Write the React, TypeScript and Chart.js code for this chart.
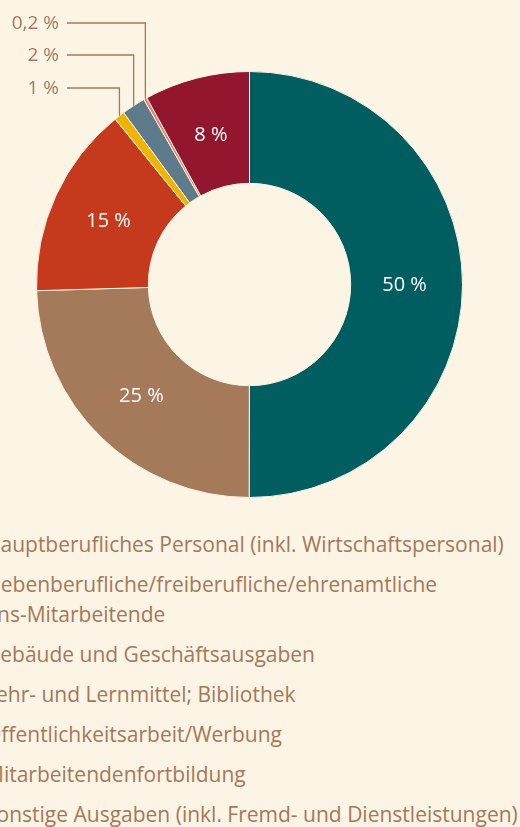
import React, { useEffect, useRef } from "react";
import { Chart, registerables } from "chart.js";

Chart.register(...registerables);

const categories: string[][] = [
  ["Hauptberufliches Personal (inkl. Wirtschaftspersonal)"],
  ["Nebenberufliche/freiberufliche/ehrenamtliche", "ns-Mitarbeitende"],
  ["Gebäude und Geschäftsausgaben"],
  ["Lehr- und Lernmittel; Bibliothek"],
  ["Öffentlichkeitsarbeit/Werbung"],
  ["Mitarbeitendenfortbildung"],
  ["Sonstige Ausgaben (inkl. Fremd- und Dienstleistungen)"],
];
const values: number[] = [50, 24.5, 14.6, 0.8, 1.8, 0.25, 8];
const valueLabels: string[] = ["50 %", "25 %", "15 %", "1 %", "2 %", "0,2 %", "8 %"];
const insideLabel: boolean[] = [true, true, true, false, false, false, true];
const colors: string[] = ["#005e60", "#a57a5a", "#c5391c", "#f0b400", "#5e7b8c", "#ea806a", "#92162e"];

const BG = "#fcf4e4";
const TEXT = "#a57858";
const FONT = "'Open Sans', 'Noto Sans', sans-serif";

export default function App() {
  const ref = useRef<HTMLCanvasElement | null>(null);

  useEffect(() => {
    document.body.style.margin = "0";
    document.body.style.background = BG;
    const canvas = ref.current!;
    const labelsPlugin = {
      id: "valueLabels",
      afterDatasetsDraw(chart: any) {
        const ctx = chart.ctx;
        const meta = chart.getDatasetMeta(0);
        ctx.save();
        // inside labels
        ctx.fillStyle = "#ffffff";
        ctx.font = `20px ${FONT}`;
        ctx.textAlign = "center";
        ctx.textBaseline = "middle";
        meta.data.forEach((arc: any, i: number) => {
          if (!insideLabel[i]) return;
          const mid = (arc.startAngle + arc.endAngle) / 2;
          const r = 155;
          ctx.fillText(valueLabels[i], arc.x + Math.cos(mid) * r, arc.y + Math.sin(mid) * r + 1);
        });
        // outside labels with leader lines
        const outside = meta.data
          .map((arc: any, i: number) => ({ arc, i }))
          .filter((o: any) => !insideLabel[o.i])
          .reverse();
        const rowY = [23, 55, 88];
        ctx.strokeStyle = TEXT;
        ctx.lineWidth = 1.3;
        ctx.fillStyle = TEXT;
        ctx.font = `19px ${FONT}`;
        ctx.textAlign = "right";
        outside.forEach((o: any, k: number) => {
          const a = o.arc;
          const mid = (a.startAngle + a.endAngle) / 2;
          const ex = a.x + Math.cos(mid) * a.outerRadius;
          const ey = a.y + Math.sin(mid) * a.outerRadius;
          const y = rowY[k];
          ctx.beginPath();
          ctx.moveTo(67, y);
          ctx.lineTo(ex, y);
          ctx.lineTo(ex, ey);
          ctx.stroke();
          ctx.fillText(valueLabels[o.i], 59, y + 1);
        });
        ctx.restore();
      },
    };
    const chart = new Chart(canvas, {
      type: "doughnut",
      data: {
        labels: categories.map((c) => c.join(" ")),
        datasets: [
          {
            data: values,
            backgroundColor: colors,
            borderColor: BG,
            borderWidth: 1,
          },
        ],
      },
      options: {
        animation: false,
        responsive: false,
        cutout: "47.5%",
        layout: { padding: { left: 36, top: 71, right: 57, bottom: 22 } },
        plugins: { legend: { display: false }, tooltip: { enabled: false } },
      },
      plugins: [labelsPlugin],
    });
    return () => chart.destroy();
  }, []);

  return (
    <div style={{ position: "absolute", left: 0, top: 0, width: 520, height: 827, background: BG, overflow: "hidden" }}>
      <canvas ref={ref} width={520} height={520} style={{ position: "absolute", left: 0, top: 0 }} />
      <div style={{ position: "absolute", left: -15, top: 528.5, fontFamily: FONT, fontSize: 21, color: TEXT, lineHeight: "30px", whiteSpace: "nowrap" }}>
        {categories.map((lines, i) => (
          <div key={i} style={{ marginBottom: 10 }}>
            {lines.map((l, j) => (
              <div key={j} style={{ marginLeft: j > 0 ? 12 : 0 }}>{l}</div>
            ))}
          </div>
        ))}
      </div>
    </div>
  );
}
